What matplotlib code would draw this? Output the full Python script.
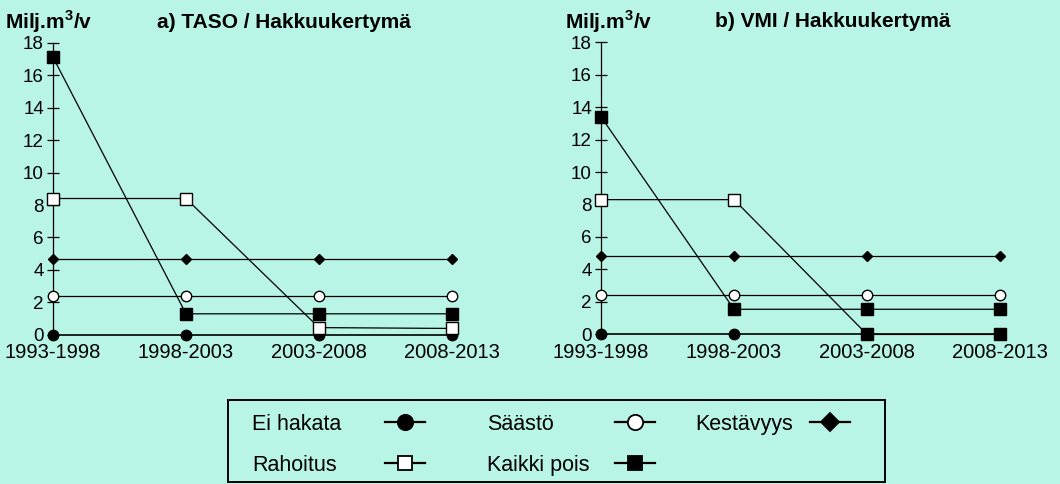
import numpy as np
import matplotlib
matplotlib.use("Agg")
import matplotlib.pyplot as plt
from matplotlib.lines import Line2D

plt.rcParams['font.family'] = ['Liberation Sans', 'DejaVu Sans']
plt.rcParams['mathtext.fontset'] = 'custom'
plt.rcParams['mathtext.rm'] = 'Liberation Sans'
plt.rcParams['mathtext.bf'] = 'Liberation Sans:bold'

periods = ['1993-1998', '1998-2003', '2003-2008', '2008-2013']

# a) TASO
taso_ei_hakata = [0, 0, 0, 0]
taso_saasto = [2.4, 2.4, 2.4, 2.4]
taso_kestavyys = [4.7, 4.7, 4.7, 4.7]
taso_rahoitus = [8.4, 8.4, 0.45, 0.4]
taso_kaikki_pois = [17.1, 1.3, 1.3, 1.3]

# b) VMI
vmi_ei_hakata = [0, 0, 0, 0]
vmi_saasto = [2.45, 2.45, 2.45, 2.45]
vmi_kestavyys = [4.85, 4.85, 4.85, 4.85]
vmi_rahoitus = [8.3, 8.3, 0, 0]
vmi_kaikki_pois = [13.4, 1.55, 1.55, 1.55]

bg = '#b8f5e6'
lw = 0.9

fig = plt.figure(figsize=(10.6, 4.84), dpi=100, facecolor=bg)


def panel(rect, title, unit_x, ei, saasto, kest, rah, kaikki, fill_zero=False):
    ax = fig.add_axes(rect, facecolor=bg)
    x = np.arange(len(periods))
    kw = dict(color='black', lw=lw, clip_on=False)
    # rahoitus
    r = np.array(rah)
    ax.plot(x, r, **kw)
    if fill_zero:
        z = r == 0
        ax.plot(x[~z], r[~z], 's', ms=8, mfc='white', mec='black', mew=1, clip_on=False, zorder=4)
        ax.plot(x[z], r[z], 's', ms=8, mfc='black', mec='black', clip_on=False, zorder=5)
    else:
        ax.plot(x, r, 's', ms=8, mfc='white', mec='black', mew=1, clip_on=False, zorder=4)
    ax.plot(x, kaikki, marker='s', ms=8, mfc='black', mec='black', zorder=4, **kw)
    ax.plot(x, saasto, marker='o', ms=7.5, mfc='white', mec='black', mew=1, zorder=4, **kw)
    ax.plot(x, kest, marker='D', ms=5.5, mfc='black', mec='black', zorder=4, **kw)
    ax.plot(x, ei, marker='o', ms=7.5, mfc='black', mec='black', color='black', lw=1.2,
            zorder=3, clip_on=False)

    ax.set_xlim(0, 3)
    ax.set_ylim(0, 18)
    ax.set_yticks(range(0, 19, 2))
    ax.set_xticks(x)
    ax.set_xticklabels(periods, fontsize=14.5)
    ax.tick_params(axis='x', length=0, pad=6)
    ax.tick_params(axis='y', direction='inout', length=9, width=0.9, pad=2, labelsize=13.5)
    for s in ['top', 'right', 'bottom']:
        ax.spines[s].set_visible(False)
    ax.spines['left'].set_linewidth(0.9)
    ax.text(0.58, 1.07, title, transform=ax.transAxes, ha='center', va='center',
            fontsize=15, fontweight='bold')
    fig.text(unit_x, 0.955, r'Milj.m$^{\mathbf{3}}$/v', ha='left', va='center',
             fontsize=15, fontweight='bold')
    return ax


panel([0.05, 0.308, 0.3764, 0.604], 'a) TASO / Hakkuukertymä', 5 / 1060,
      taso_ei_hakata, taso_saasto, taso_kestavyys, taso_rahoitus, taso_kaikki_pois)
panel([0.567, 0.309, 0.3764, 0.604], 'b) VMI / Hakkuukertymä', 565 / 1060,
      vmi_ei_hakata, vmi_saasto, vmi_kestavyys, vmi_rahoitus, vmi_kaikki_pois, fill_zero=True)

# legend box drawn by hand: rows and columns as in the original figure
labels = [['Ei hakata', 'Säästö', 'Kestävyys'], ['Rahoitus', 'Kaikki pois']]
styles = {
    'Ei hakata': dict(marker='o', ms=11, mfc='black'),
    'Säästö': dict(marker='o', ms=11, mfc='white'),
    'Kestävyys': dict(marker='D', ms=9, mfc='black'),
    'Rahoitus': dict(marker='s', ms=10.5, mfc='white'),
    'Kaikki pois': dict(marker='s', ms=10.5, mfc='black'),
}
label_x = [0.0365, 0.394, 0.711]
handle_x = [0.269, 0.619, 0.916]
half = 0.0304
row_y = [0.732, 0.232]

lax = fig.add_axes([228 / 1060, 2 / 484, 657 / 1060, 82 / 484], facecolor=bg)
lax.set_xlim(0, 1)
lax.set_ylim(0, 1)
lax.set_xticks([])
lax.set_yticks([])
for s in lax.spines.values():
    s.set_linewidth(1.4)
for i, row in enumerate(labels):
    for j, lab in enumerate(row):
        lax.text(label_x[j], row_y[i], lab, fontsize=15.5, ha='left', va='center_baseline')
        hx = handle_x[j]
        lax.add_line(Line2D([hx - half, hx + half], [row_y[i], row_y[i]], color='black', lw=1.6))
        lax.plot([hx], [row_y[i]], linestyle='none', mec='black', mew=1.3, **styles[lab])

fig.savefig('out.png', dpi=100, facecolor=bg)
